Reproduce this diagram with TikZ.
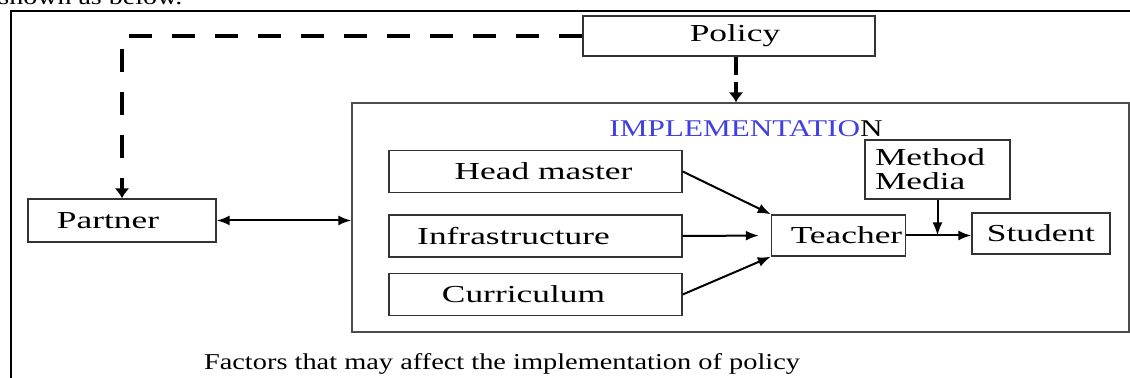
\documentclass[tikz,border=0pt]{standalone}
\usepackage{fontspec}
\setmainfont{Liberation Serif}
\newfontfamily\boxfont{Liberation Serif}[FakeStretch=1.45]
\newfontfamily\capfont{Liberation Serif}[FakeStretch=1.25]
\newfontfamily\titfont{Liberation Serif}[FakeStretch=1.3]
\usetikzlibrary{arrows.meta,positioning}
\definecolor{impblue}{RGB}{64,64,224}
\tikzset{
  basic/.style    = {draw=black!80, line width=0.7pt, rectangle, inner sep=0pt,
                     font=\boxfont\fontsize{12.2}{12}\selectfont},
  side/.style     = {basic, minimum width=146.5pt, minimum height=21pt},
  small/.style    = {basic, minimum width=67pt, minimum height=20.5pt},
  link/.style     = {-{Latex[length=6.5pt,width=5pt]}, line width=1pt},
  dashlink/.style = {-{Latex[length=5pt,width=7.5pt]}, line width=1.6pt,
                     dash pattern=on 11.5pt off 10pt}
}

\begin{document}
\begin{tikzpicture}[x=0.5pt, y=-0.5pt]
\useasboundingbox (0,0) rectangle (1130,378);

% page text and frame
\node[anchor=base west, inner sep=0pt, font=\capfont\fontsize{11.2}{12}\selectfont]
  (shown) at (-2,5) {shown as below.};
\draw[line width=1pt] (11,378) -- (11,11) -- (1130,11);

% top level
\node[basic, minimum width=146pt, minimum height=20pt] (pol) at (729,36) {\hspace{6pt}Policy};
\node[draw=black!70, line width=0.7pt, minimum width=388.5pt, minimum height=114.5pt]
  (impl) at (740.5,217.5) {};
\node[anchor=base, inner sep=0pt, font=\titfont\fontsize{12}{12}\selectfont]
  (title) at (746,137) {\textcolor{impblue}{IMPLEMENTATIO}N};
\node[basic, minimum width=94pt, minimum height=21.5pt] (part) at (122,220.5)
  {Partner\hspace{14pt}\mbox{}};

% inside the implementation box
\node[side] (hm)    at (535.5,171.5) {\hspace{8pt}Head master};
\node[side] (infra) at (535.5,236)   {Infrastructure\hspace{22pt}\mbox{}};
\node[side] (cur)   at (535.5,294.5) {Curriculum\hspace{12pt}\mbox{}};
\node[small] (tea)  at (838.5,235.5) {\hspace{8pt}Teacher};
\node[basic, minimum width=72.5pt, minimum height=29.5pt, text width=62.5pt,
      align=left] (mm) at (937.5,169.5) {Method\\Media};
\node[small, minimum width=69pt] (stu) at (1041,233.5) {Student};

% caption
\node[anchor=base, inner sep=0pt, font=\capfont\fontsize{11.35}{12}\selectfont]
  (capt) at (502,370) {Factors that may affect the implementation of policy};

% connectors
\draw[dashlink] (pol.west) -| (part.north);
\draw[dashlink, dash pattern=on 9pt off 3.5pt]
  ([xshift=3.5pt]pol.south) -- ([xshift=3.5pt]pol.south |- impl.north);
\draw[link, {Latex[length=6.5pt,width=5pt]}-{Latex[length=6.5pt,width=5pt]}]
  (part.east) -- (part.east -| impl.west);
\draw[link] (hm.east) -- (tea.north west);
\draw[link, shorten >=6pt] (infra.east) -- (tea.west);
\draw[link] (cur.east) -- (tea.south west);
\draw[link] (tea.east) -- (tea.east -| stu.west);
\draw[link] (mm.south) -- (mm.south |- tea.east);
\end{tikzpicture}
\end{document}
